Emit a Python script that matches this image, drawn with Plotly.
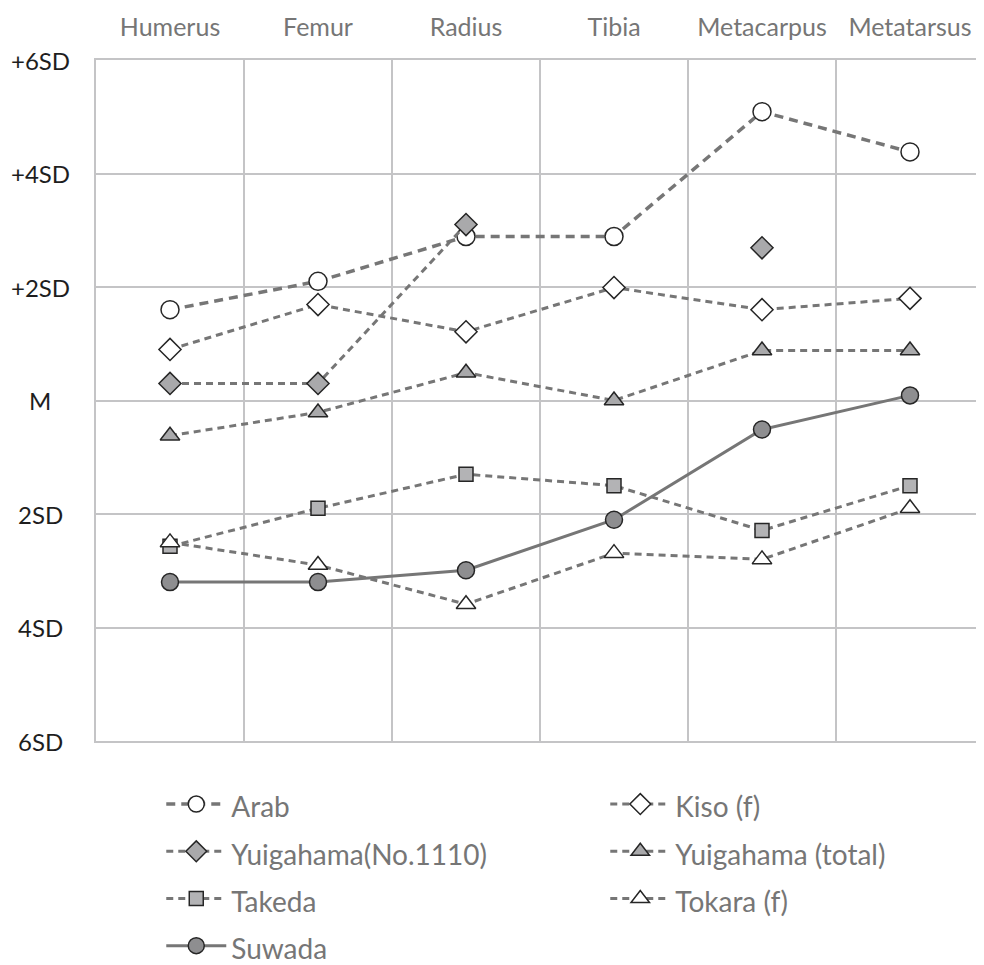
import plotly.graph_objects as go

categories = ["Humerus", "Femur", "Radius", "Tibia", "Metacarpus", "Metatarsus"]
y_tick_values = [6, 4, 2, 0, -2, -4, -6]
y_tick_labels = ["+6SD", "+4SD", "+2SD", "M", "2SD", "4SD", "6SD"]

arab = [1.60, 2.10, 2.89, 2.89, 5.09, 4.38]
kiso_f = [0.90, 1.69, 1.21, 1.99, 1.60, 1.80]
yuigahama_1110 = [0.30, 0.30, 3.10, None, 2.69, None]
yuigahama_total = [-0.62, -0.21, 0.49, 0.00, 0.88, 0.88]
takeda = [-2.57, -1.90, -1.30, -1.50, -2.29, -1.50]
tokara_f = [-2.50, -2.90, -3.59, -2.69, -2.80, -1.90]
suwada = [-3.20, -3.20, -2.99, -2.10, -0.51, 0.09]

LINE = "#767676"
EDGE = "#262626"
GRID = "#c4c4c6"
TEXT = "#767676"
FONT = "Lato"

series = [
    ("Arab", arab, "circle", "#ffffff", 18, "9px,6px", 3.5),
    ("Kiso (f)", kiso_f, "diamond", "#ffffff", 17, "7px,5px", 3),
    ("Yuigahama(No.1110)", yuigahama_1110, "diamond", "#a9a9ab", 17, "7px,5px", 3),
    ("Yuigahama (total)", yuigahama_total, "triangle-up", "#a9a9ab", 17, "7px,5px", 3),
    ("Takeda", takeda, "square", "#b3b3b5", 14, "7px,5px", 3),
    ("Tokara (f)", tokara_f, "triangle-up", "#ffffff", 17, "7px,5px", 3),
    ("Suwada", suwada, "circle", "#8e8e90", 17, "solid", 3),
]

x = list(range(len(categories)))
fig = go.Figure()
for name, vals, sym, fill, size, dash, w in series:
    fig.add_trace(go.Scatter(
        x=x, y=vals,
        name='<span style="font-size:28px">' + name + '</span>',
        mode="lines+markers", connectgaps=False,
        line=dict(color=LINE, width=w, dash=dash),
        marker=dict(symbol=sym, size=size, color=fill,
                    line=dict(color=EDGE, width=1.5)),
    ))

for v, t in zip(y_tick_values, y_tick_labels):
    fig.add_annotation(x=-0.063, xref="paper", y=v, yref="y", text=t,
                       showarrow=False, xanchor="center", yanchor="middle",
                       font=dict(family=FONT, size=24, color="#1e1e1e"))

fig.update_layout(
    width=976, height=957,
    margin=dict(l=88, r=0, t=52, b=224, autoexpand=False),
    paper_bgcolor="white", plot_bgcolor="white",
    font=dict(family=FONT, size=20, color=TEXT),
    showlegend=True,
    legend=dict(orientation="h", x=0.0735, xanchor="left", y=-0.0506, yanchor="top",
                entrywidth=369, entrywidthmode="pixels", itemwidth=60,
                font=dict(family=FONT, size=34, color=TEXT),
                bgcolor="rgba(0,0,0,0)"),
    xaxis=dict(
        range=[-0.5, 5.5], side="top",
        tickmode="array", tickvals=x, ticktext=categories,
        showgrid=False, zeroline=False,
        ticks="", ticklabelstandoff=12,
        tickfont=dict(family=FONT, size=25, color=TEXT),
        showline=True, mirror=True, linecolor=GRID, linewidth=1.5,
        minor=dict(tickmode="array", tickvals=[0.5, 1.5, 2.5, 3.5, 4.5],
                   showgrid=True, gridcolor=GRID, gridwidth=1.5, ticks=""),
    ),
    yaxis=dict(
        range=[-6, 6], tickmode="array", tickvals=y_tick_values,
        showticklabels=False, showgrid=True, gridcolor=GRID, gridwidth=1.5,
        zeroline=False, showline=True, linecolor=GRID, linewidth=1.5,
        ticks="",
    ),
)

fig.write_html("out.html")
